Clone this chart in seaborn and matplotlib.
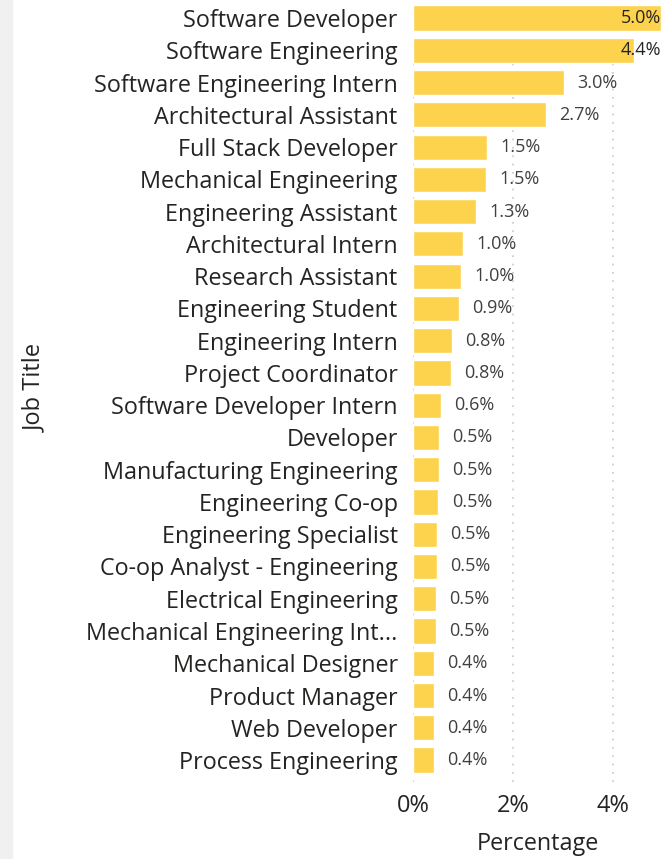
import matplotlib
matplotlib.use("Agg")
from matplotlib import pyplot as plt
import seaborn as sns
import pandas as pd

job_titles = [
    "Software Developer", "Software Engineering", "Software Engineering Intern",
    "Architectural Assistant", "Full Stack Developer", "Mechanical Engineering",
    "Engineering Assistant", "Architectural Intern", "Research Assistant",
    "Engineering Student", "Engineering Intern", "Project Coordinator",
    "Software Developer Intern", "Developer", "Manufacturing Engineering",
    "Engineering Co-op", "Engineering Specialist", "Co-op Analyst - Engineering",
    "Electrical Engineering", "Mechanical Engineering Int...", "Mechanical Designer",
    "Product Manager", "Web Developer", "Process Engineering",
]
percentages = [
    4.96, 4.42, 3.02, 2.66, 1.48, 1.46, 1.26, 1.00, 0.96, 0.92, 0.78, 0.76,
    0.56, 0.52, 0.52, 0.51, 0.48, 0.48, 0.46, 0.46, 0.42, 0.42, 0.42, 0.42,
]
x_ticks = [0, 2, 4]

df = pd.DataFrame({"Job Title": job_titles, "Percentage": percentages})

sns.set_theme(style="white")
plt.rcParams["font.family"] = ["Open Sans", "DejaVu Sans"]

W, H = 671, 859
fig = plt.figure(figsize=(W / 100, H / 100), dpi=100)
fig.patches.append(plt.Rectangle((0, 0), 12 / W, 1, transform=fig.transFigure,
                                 color="#f0f0f0", zorder=0))
ax = fig.add_axes([413 / W, (H - 782) / H, 250 / W, 782 / H])

sns.barplot(data=df, x="Percentage", y="Job Title", orient="h", color="#fdd34e",
            saturation=1, width=0.78, ax=ax, zorder=2)

xmax = 5.0
ax.set_xlim(0, xmax)
ax.set_ylim(23.68, -0.56)
ax.set_xticks(x_ticks)
ax.set_xticklabels([f"{t}%" for t in x_ticks])
for t in x_ticks:
    ax.axvline(t, color="#c8c8c8", linestyle=(0, (1, 4)), linewidth=1.2, zorder=1)

for s in ax.spines.values():
    s.set_visible(False)
ax.tick_params(axis="y", length=0, pad=11, labelsize=16.8, labelcolor="#252423")
ax.tick_params(axis="x", length=0, pad=9, labelsize=17, labelcolor="#252423")
ax.set_ylabel("")
ax.set_xlabel("Percentage", fontsize=16.8, color="#252423", labelpad=10)
fig.text(35 / W, (H - 388) / H, "Job Title", rotation=90, fontsize=17,
         color="#252423", ha="center", va="center")

for i, v in enumerate(percentages):
    label = f"{v:.1f}%"
    if v > 4:
        ax.text(xmax - 0.03, i, label, ha="right", va="center", fontsize=13,
                color="#252423", zorder=3)
    else:
        ax.text(v + 0.27, i, label, ha="left", va="center", fontsize=13,
                color="#404040", zorder=3)

plt.savefig("out.png", dpi=100)
